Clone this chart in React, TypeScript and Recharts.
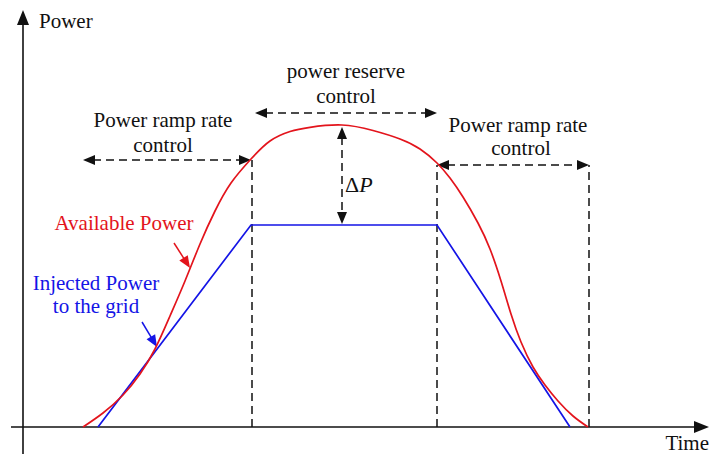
import React from 'react'
import { ComposedChart, Line, XAxis, YAxis, ReferenceLine, ReferenceDot } from 'recharts'

// time axis starts at the power axis, power at the time axis
const availablePower = [
  { t: 60, p: 0 }, { t: 80, p: 14 }, { t: 100, p: 32 }, { t: 117, p: 53 },
  { t: 132, p: 78 }, { t: 147, p: 111 }, { t: 162, p: 146 }, { t: 177, p: 183 },
  { t: 192, p: 216 }, { t: 208, p: 244 }, { t: 228, p: 268 }, { t: 247, p: 286 },
  { t: 267, p: 295.5 }, { t: 287, p: 299.7 }, { t: 319, p: 302 }, { t: 350, p: 296.5 },
  { t: 377, p: 288 }, { t: 397, p: 278 }, { t: 414, p: 264 }, { t: 427, p: 249 },
  { t: 440, p: 230 }, { t: 455, p: 204 }, { t: 467, p: 178 }, { t: 478, p: 146 },
  { t: 488, p: 113 }, { t: 498, p: 85 }, { t: 510, p: 60 }, { t: 522, p: 42 },
  { t: 535, p: 26 }, { t: 550, p: 11 }, { t: 565, p: 0 },
]
const injectedPower = [
  { t: 75, p: 0 }, { t: 228, p: 202 }, { t: 414, p: 202 }, { t: 547, p: 0 },
]
// region borders (time, height of dashed line)
const regionEdges = [
  { t: 229, top: 267 },
  { t: 414, top: 262 },
  { t: 566, top: 262 },
]
const spanArrows = [
  { from: 60, to: 228, p: 267 },
  { from: 232, to: 414, p: 314 },
  { from: 414, to: 566, p: 262 },
]
const deltaP = { t: 319, from: 300, to: 203 }

const RED = '#e3141c'
const BLUE = '#1414e6'
const FONT = '"Liberation Serif", "Times New Roman", serif'

const labels = [
  { t: 16, p: 399, text: 'Power', anchor: 'start', color: '#111' },
  { t: 686, p: -23, text: 'Time', anchor: 'end', color: '#111' },
  { t: 140, p: 300, text: 'Power ramp rate', anchor: 'middle', color: '#111' },
  { t: 140, p: 275, text: 'control', anchor: 'middle', color: '#111' },
  { t: 323, p: 349, text: 'power reserve', anchor: 'middle', color: '#111' },
  { t: 323, p: 324, text: 'control', anchor: 'middle', color: '#111' },
  { t: 495, p: 295, text: 'Power ramp rate', anchor: 'middle', color: '#111' },
  { t: 498, p: 272, text: 'control', anchor: 'middle', color: '#111' },
  { t: 101, p: 197, text: 'Available Power', anchor: 'middle', color: RED },
  { t: 73, p: 137, text: 'Injected Power', anchor: 'middle', color: BLUE },
  { t: 73, p: 114, text: 'to the grid', anchor: 'middle', color: BLUE },
]

const head = (x: number, y: number, fx: number, fy: number, color: string, len = 12, half = 5) => {
  const dx = x - fx
  const dy = y - fy
  const d = Math.hypot(dx, dy) || 1
  const ux = dx / d
  const uy = dy / d
  const bx = x - ux * len
  const by = y - uy * len
  return (
    <polygon
      points={`${x},${y} ${bx - uy * half},${by + ux * half} ${bx + uy * half},${by - ux * half}`}
      fill={color}
    />
  )
}

const arrow = (opts: { start?: boolean; end?: boolean; dashed?: boolean; color?: string; width?: number; len?: number; half?: number }) =>
  (props: any) => {
    const { x1, y1, x2, y2 } = props
    const color = opts.color ?? '#111'
    const len = opts.len ?? 12
    const d = Math.hypot(x2 - x1, y2 - y1) || 1
    const ux = (x2 - x1) / d
    const uy = (y2 - y1) / d
    const sx = opts.start ? x1 + ux * (len - 2) : x1
    const sy = opts.start ? y1 + uy * (len - 2) : y1
    const ex = opts.end ? x2 - ux * (len - 2) : x2
    const ey = opts.end ? y2 - uy * (len - 2) : y2
    return (
      <g>
        <line x1={sx} y1={sy} x2={ex} y2={ey} stroke={color} strokeWidth={opts.width ?? 1.5}
          strokeDasharray={opts.dashed ? '8 5' : undefined} />
        {opts.start && head(x1, y1, x2, y2, color, len, opts.half)}
        {opts.end && head(x2, y2, x1, y1, color, len, opts.half)}
      </g>
    )
  }

const textShape = (l: typeof labels[number]) => (props: any) => (
  <text x={props.cx} y={props.cy} textAnchor={l.anchor as any} fill={l.color}
    fontFamily={FONT} fontSize={21}>
    {l.text}
  </text>
)

export default function App() {
  return (
    <div style={{ position: 'absolute', left: 0, top: 0, background: '#fff' }}>
      <ComposedChart width={710} height={454} margin={{ top: 0, right: 0, bottom: 0, left: 0 }}>
        <XAxis type="number" dataKey="t" domain={[-23, 687]} allowDataOverflow hide />
        <YAxis type="number" dataKey="p" domain={[-27, 427]} allowDataOverflow hide />

        {/* axes */}
        <ReferenceLine segment={[{ x: 0, y: -27 }, { x: 0, y: 417 }]} ifOverflow="visible"
          shape={arrow({ end: true, width: 1.6, len: 15, half: 6 })} />
        <ReferenceLine segment={[{ x: -12, y: 0 }, { x: 686, y: 0 }]} ifOverflow="visible"
          shape={arrow({ end: true, width: 1.6, len: 15, half: 6 })} />

        {regionEdges.map((r, i) => (
          <ReferenceLine key={'e' + i} segment={[{ x: r.t, y: 0 }, { x: r.t, y: r.top }]}
            ifOverflow="visible" shape={arrow({ dashed: true })} />
        ))}
        {spanArrows.map((a, i) => (
          <ReferenceLine key={'s' + i} segment={[{ x: a.from, y: a.p }, { x: a.to, y: a.p }]}
            ifOverflow="visible" shape={arrow({ start: true, end: true, dashed: true })} />
        ))}
        <ReferenceLine segment={[{ x: deltaP.t, y: deltaP.from }, { x: deltaP.t, y: deltaP.to }]}
          ifOverflow="visible" shape={arrow({ start: true, end: true, dashed: true })} />

        {/* pointers to the curves */}
        <ReferenceLine segment={[{ x: 151, y: 184 }, { x: 167, y: 159 }]} ifOverflow="visible"
          shape={arrow({ end: true, color: RED, width: 1.5 })} />
        <ReferenceLine segment={[{ x: 119, y: 105 }, { x: 134, y: 80 }]} ifOverflow="visible"
          shape={arrow({ end: true, color: BLUE, width: 1.5 })} />

        <Line data={injectedPower} dataKey="p" type="linear" stroke={BLUE} strokeWidth={1.7}
          dot={false} activeDot={false} isAnimationActive={false} />
        <Line data={availablePower} dataKey="p" type="natural" stroke={RED} strokeWidth={1.7}
          dot={false} activeDot={false} isAnimationActive={false} />

        {labels.map((l, i) => (
          <ReferenceDot key={'l' + i} x={l.t} y={l.p} r={0} ifOverflow="visible" shape={textShape(l)} />
        ))}
        <ReferenceDot x={322} y={235} r={0} ifOverflow="visible"
          shape={(props: any) => (
            <text x={props.cx} y={props.cy} fill="#111" fontFamily={FONT} fontSize={22}>
              Δ<tspan fontStyle="italic">P</tspan>
            </text>
          )} />
      </ComposedChart>
    </div>
  )
}
